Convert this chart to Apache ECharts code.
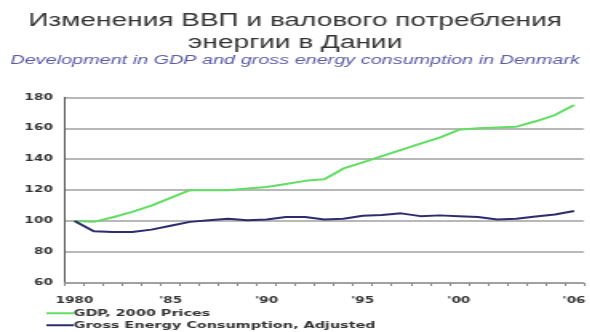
<!DOCTYPE html>
<html>
<head>
<meta charset="utf-8">
<script src="https://cdn.jsdelivr.net/npm/echarts@6/dist/echarts.min.js"></script>
<style>
html,body{margin:0;padding:0;background:#fff;overflow:hidden;width:590px;height:332px;}
#chart{width:369px;height:332px;transform:scaleX(1.6);transform-origin:0 0;}
</style>
</head>
<body>
<div id="chart"></div>
<script>
var titleText = 'Изменения ВВП и валового потребления\nэнергии в Дании';
var subtitleText = 'Development in GDP and gross energy consumption in Denmark';
var years = ['1980','1981','1982','1983','1984','1985','1986','1987','1988','1989','1990','1991','1992','1993','1994','1995','1996','1997','1998','1999','2000','2001','2002','2003','2004','2005','2006'];
var labelYears = ['1980','1985','1990','1995','2000','2006'];
var labelTexts = ['1980',"'85","'90","'95","'00","'06"];
var gdpName = 'GDP, 2000 Prices';
var gdp = [100,99.5,102.5,106,110,115,120,120,120,121,122,124,126,127,134,138,142,146,150,154,159,160,160.5,161,164.5,168.5,175];
var energyName = 'Gross Energy Consumption, Adjusted';
var energy = [100,93.5,93,93,94.5,97,99.5,100.5,101.5,100.6,101,102.6,102.6,101,101.5,103.5,104,105,103.2,103.7,103.2,102.6,101,101.5,103,104.3,106.5];
var yMin = 60, yMax = 180, yStep = 20;

var chart = echarts.init(document.getElementById('chart'), null, {renderer:'canvas'});
var boldFont = 'DejaVu Sans';
chart.setOption({
  backgroundColor: '#fff',
  animation: false,
  title: [{
    text: titleText,
    left: 'center',
    top: 10,
    padding: 0,
    textStyle: {fontFamily: 'Liberation Sans', fontSize: 17.5, fontWeight: 'normal', color: '#333', lineHeight: 22}
  },{
    text: subtitleText,
    left: 'center',
    top: 55,
    padding: 0,
    textStyle: {fontFamily: 'Liberation Sans', fontSize: 12.4, fontStyle: 'italic', fontWeight: 'normal', color: '#5a5aa8'}
  }],
  grid: {left: 40.6, right: 2.1, top: 97.3, bottom: 49, containLabel: false},
  legend: {
    orient: 'vertical',
    left: 29,
    top: 308,
    padding: 0,
    itemGap: 1.5,
    icon: 'rect',
    itemWidth: 17,
    itemHeight: 2,
    textStyle: {fontFamily: boldFont, fontWeight: 'bold', fontSize: 9, color: '#333', lineHeight: 10.5, padding: [0,0,0,-5]},
    data: [gdpName, energyName]
  },
  xAxis: {
    type: 'category',
    data: years,
    boundaryGap: true,
    axisLine: {show: true, lineStyle: {color: '#999', width: 1.5}},
    axisTick: {show: true, interval: 0, length: 3, lineStyle: {color: '#888'}},
    axisLabel: {
      interval: function(i, v){ return labelYears.indexOf(v) >= 0; },
      formatter: function(v){ var k = labelYears.indexOf(v); return k >= 0 ? labelTexts[k] : ''; },
      margin: 13,
      fontFamily: boldFont, fontWeight: 'bold', fontSize: 8.5, color: '#333'
    },
    splitLine: {show: false}
  },
  yAxis: {
    type: 'value',
    min: yMin, max: yMax, interval: yStep,
    axisLine: {show: true, lineStyle: {color: '#555', width: 1}},
    axisTick: {show: false},
    axisLabel: {margin: 7.5, fontFamily: boldFont, fontWeight: 'bold', fontSize: 8.5, color: '#333'},
    splitLine: {show: true, lineStyle: {color: '#a0a0a0', width: 1.5}}
  },
  series: [{
    name: gdpName,
    type: 'line',
    data: gdp,
    symbol: 'none',
    smooth: false,
    lineStyle: {color: '#62de62', width: 2},
    itemStyle: {color: '#62de62'}
  },{
    name: energyName,
    type: 'line',
    data: energy,
    symbol: 'none',
    smooth: false,
    lineStyle: {color: '#2c2c6e', width: 2},
    itemStyle: {color: '#2c2c6e'}
  }]
});
</script>
</body>
</html>
